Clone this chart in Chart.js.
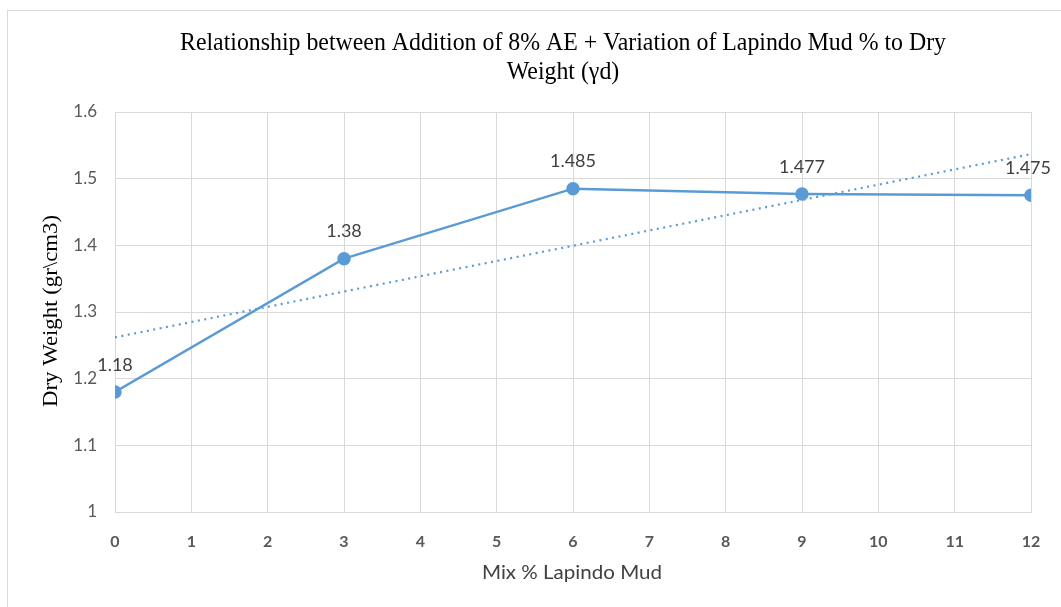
<!DOCTYPE html>
<html>
<head>
<meta charset="utf-8">
<script src="https://cdn.jsdelivr.net/npm/chart.js@4.4.0/dist/chart.umd.min.js"></script>
<style>
html,body{margin:0;padding:0;background:#fff;overflow:hidden;}
#wrap{position:relative;width:1061px;height:607px;}
#frame{position:absolute;left:7px;top:10px;width:1100px;height:700px;border:1px solid #d9d9d9;box-sizing:border-box;}
canvas{position:absolute;left:0;top:0;}
</style>
</head>
<body>
<div id="wrap"><div id="frame"></div><canvas id="c" width="1061" height="607"></canvas></div>
<script>
const mixPercent = [0, 3, 6, 9, 12];
const dryWeight = [1.18, 1.38, 1.485, 1.477, 1.475];
const dataLabels = ['1.18', '1.38', '1.485', '1.477', '1.475'];
const titleLines = ['Relationship between Addition of 8% AE + Variation of Lapindo Mud % to Dry', 'Weight (\u03b3d)'];
const yTitle = 'Dry Weight (gr\\cm3)';
const xTitle = 'Mix % Lapindo Mud';

// linear trendline (least squares) from the data, as the spreadsheet does
const n = mixPercent.length;
const mx = mixPercent.reduce((a,b)=>a+b,0)/n;
const my = dryWeight.reduce((a,b)=>a+b,0)/n;
let sxy=0, sxx=0;
for(let i=0;i<n;i++){sxy+=(mixPercent[i]-mx)*(dryWeight[i]-my);sxx+=(mixPercent[i]-mx)**2;}
const slope=sxy/sxx, icpt=my-slope*mx;
const trend=[{x:0,y:icpt},{x:12,y:icpt+slope*12}];

const BLUE='#5B9BD5';
function fitText(ctx,txt,x,y,w){
  const m=ctx.measureText(txt).width;
  ctx.save();ctx.translate(x,y);ctx.scale(w/m,1);ctx.fillText(txt,0,0);ctx.restore();
}
const textPlugin={
  id:'texts',
  afterDraw(chart){
    const ctx=chart.ctx;
    ctx.save();
    ctx.fillStyle='#000';
    ctx.textAlign='center';ctx.textBaseline='alphabetic';
    ctx.font='25px "Liberation Serif"';
    const ratio=766/ctx.measureText(titleLines[0]).width;
    fitText(ctx,titleLines[0],563,50,766);
    fitText(ctx,titleLines[1],563,79,ctx.measureText(titleLines[1]).width*ratio);
    ctx.textBaseline='middle';
    ctx.save();
    ctx.translate(51,311);ctx.rotate(-Math.PI/2);
    ctx.font='22px "Liberation Serif"';
    fitText(ctx,yTitle,0,0,192);
    ctx.restore();
    ctx.fillStyle='#404040';
    ctx.font='20px Lato';
    fitText(ctx,xTitle,572,573,180);
    // data labels
    const meta=chart.getDatasetMeta(0);
    ctx.fillStyle='#404040';
    ctx.font='18px Lato';
    meta.data.forEach((pt,i)=>{
      let x=pt.x;
      if(i===meta.data.length-1) x=pt.x-3;
      ctx.fillText(dataLabels[i],x,pt.y-27);
    });
    ctx.restore();
  }
};

new Chart(document.getElementById('c'),{
  type:'scatter',
  data:{datasets:[
    {data:mixPercent.map((x,i)=>({x:x,y:dryWeight[i]})),showLine:true,borderColor:BLUE,backgroundColor:BLUE,borderWidth:2.5,pointRadius:5.5,pointHoverRadius:5.5,order:1},
    {data:trend,showLine:true,borderColor:BLUE,borderWidth:2.2,borderDash:[2,4.5],pointRadius:0,order:2}
  ]},
  options:{
    responsive:false,animation:false,
    layout:{padding:{left:0,top:112,right:30,bottom:0}},
    plugins:{legend:{display:false},tooltip:{enabled:false},title:{display:false}},
    scales:{
      x:{type:'linear',min:0,max:12,
        ticks:{stepSize:1,color:'#595959',font:{family:'Lato',size:16,weight:'bold'},padding:20},
        grid:{color:'#d9d9d9',drawTicks:false},border:{color:'#d9d9d9'},
        afterFit(s){s.height=95;}},
      y:{min:1,max:1.6,
        ticks:{stepSize:0.1,color:'#595959',font:{family:'Lato',size:17},padding:18,
          callback:v=>String(Number(v.toFixed(1)))},
        grid:{color:'#d9d9d9',drawTicks:false},border:{color:'#d9d9d9'},
        afterFit(s){s.width=115;}}
    }
  },
  plugins:[textPlugin]
});
</script>
</body>
</html>
